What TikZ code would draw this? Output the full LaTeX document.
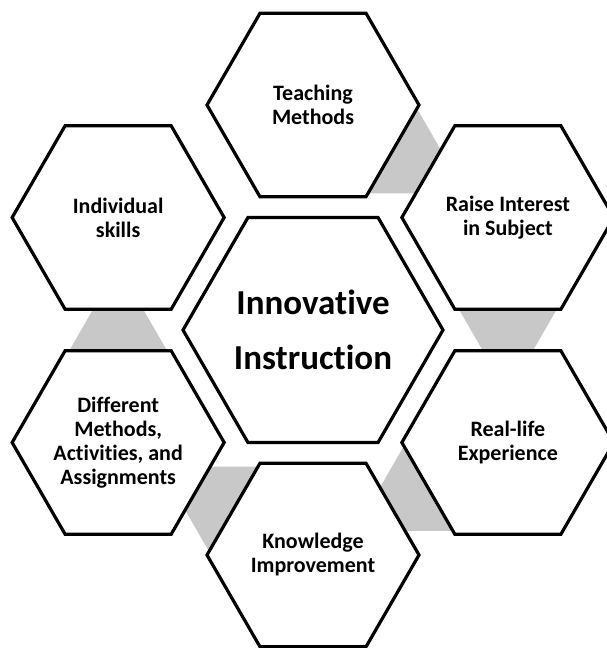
\documentclass[tikz,border=0pt]{standalone}
\usepackage{fontspec}
\setmainfont{Carlito}[Ligatures=NoCommon]
\usetikzlibrary{calc}
\definecolor{linkgrey}{RGB}{200,200,200}
\tikzset{
  hexline/.style={draw=black, line width=3.2pt, line join=miter, fill=white},
  celltext/.style={font=\bfseries\fontsize{22}{24}\selectfont, align=center, text=black, inner sep=0pt},
  hubtext/.style={font=\bfseries\fontsize{35}{55}\selectfont, align=center, text=black, inner sep=0pt},
  linkfill/.style={fill=linkgrey, draw=none},
}
% grey tapered band joining two neighbouring cells, narrowing toward the second one
\newcommand\flowlink[2]{%
  \coordinate (lm) at ($(#1)!0.5!(#2)$);
  \coordinate (la) at ($(lm)!-55pt!(#2)$);
  \coordinate (lb) at ($(lm)!55pt!(#2)$);
  \fill[linkfill] ($(la)!68.75pt!90:(#2)$) -- ($(lb)!5.25pt!90:(#2)$)
    -- ($(lb)!5.25pt!-90:(#2)$) -- ($(la)!68.75pt!-90:(#2)$) -- cycle;
}
% flat-topped hexagon around a centre
\newcommand\hexcell[2]{%
  \draw[hexline] ($(#1)+(0:#2)$) -- ($(#1)+(60:#2)$) -- ($(#1)+(120:#2)$)
    -- ($(#1)+(180:#2)$) -- ($(#1)+(240:#2)$) -- ($(#1)+(300:#2)$) -- cycle;
}
\begin{document}
\begin{tikzpicture}[x=1pt,y=-1pt]
\useasboundingbox (0,0) rectangle (606,648);
% cell centres
\coordinate (hub) at (313,330);
\coordinate (tm) at (313,105);
\coordinate (ri) at (507.86,217.5);
\coordinate (re) at (507.86,442.5);
\coordinate (ki) at (313,555);
\coordinate (dm) at (118.14,442.5);
\coordinate (is) at (118.14,217.5);
% connecting bands
\flowlink{tm}{ri}
\flowlink{ri}{re}
\flowlink{re}{ki}
\flowlink{ki}{dm}
\flowlink{dm}{is}
% cells
\hexcell{hub}{130}
\foreach \c in {tm,ri,re,ki,dm,is} {\hexcell{\c}{106}}
% labels
\node[hubtext] (hub-label) at (hub) {Innovative\\Instruction};
\node[celltext] (tm-label) at (tm) {Teaching\\Methods};
\node[celltext] (ri-label) at (ri) {Raise Interest\\in Subject};
\node[celltext] (re-label) at (re) {Real-life\\Experience};
\node[celltext] (ki-label) at (ki) {Knowledge\\Improvement};
\node[celltext] (dm-label) at (dm) {Different\\Methods,\\Activities, and\\Assignments};
\node[celltext] (is-label) at (is) {Individual\\skills};
\end{tikzpicture}
\end{document}
